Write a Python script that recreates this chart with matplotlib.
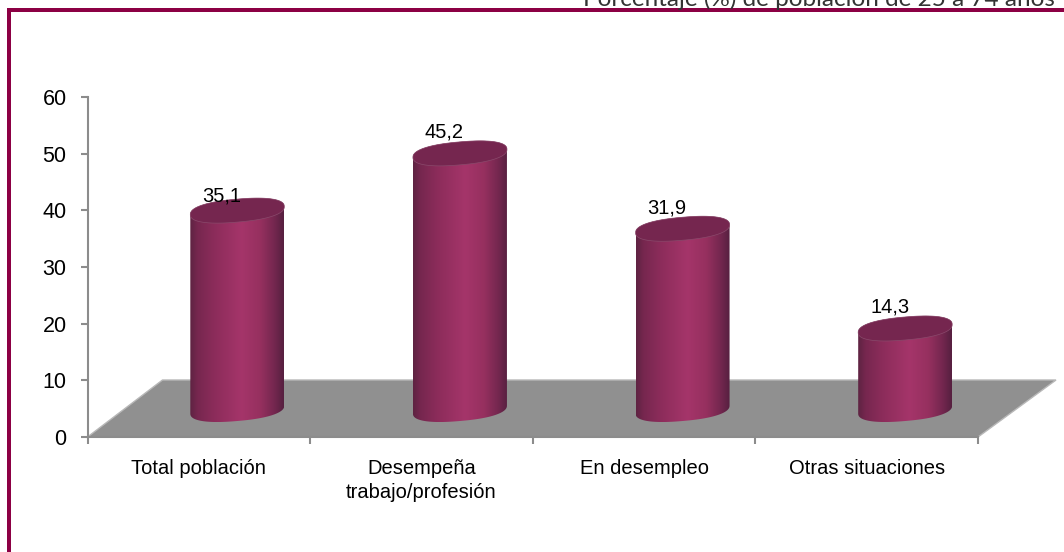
import numpy as np
import matplotlib
matplotlib.use("Agg")
import matplotlib.pyplot as plt
from matplotlib.colors import LinearSegmentedColormap
from matplotlib.patches import Polygon, Rectangle

categories = ["Total población", "Desempeña\ntrabajo/profesión", "En desempleo", "Otras situaciones"]
values = [35.1, 45.2, 31.9, 14.3]
value_labels = ["35,1", "45,2", "31,9", "14,3"]
y_ticks = [0, 10, 20, 30, 40, 50, 60]
header = "Porcentaje (%) de población de 25 a 74 años"

W, H = 1064, 552
fig = plt.figure(figsize=(W / 100, H / 100), dpi=100, facecolor="white")
L, R, T, B = 87.5, 978, 97, 437
ax = fig.add_axes([L / W, 1 - B / H, (R - L) / W, (B - T) / H])
ax.set_xlim(0, 4)
ax.set_ylim(0, 60)
ax.patch.set_visible(False)
for s in ("top", "right"):
    ax.spines[s].set_visible(False)
for s in ("left", "bottom"):
    ax.spines[s].set_color("#8c8c8c")
    ax.spines[s].set_linewidth(1.5)

font = "Liberation Sans"
ax.set_yticks(y_ticks)
ax.set_yticklabels([str(v) for v in y_ticks], fontsize=15.5, family=font, color="black")
ax.set_xticks(range(5))
ax.set_xticklabels([])
ax.tick_params(axis="y", length=5, width=1.5, color="#8c8c8c", pad=10)
ax.tick_params(axis="x", length=5, width=1.5, color="#8c8c8c")

px = (R - L) / 4      # pixels per category
py = (B - T) / 60     # pixels per y unit
dx, dy = 75 / px, 57 / py   # floor depth in data units

ax.add_patch(Polygon([(0, 0), (dx, dy), (4 + 78 / px, dy), (4, 0)], closed=True,
                     facecolor="#909090", edgecolor="#b8b8b8", linewidth=1.0,
                     clip_on=False, zorder=1))

cmap = LinearSegmentedColormap.from_list("cyl", [
    (0.0, "#5e2342"), (0.08, "#76274f"), (0.25, "#8b2c5a"),
    (0.55, "#a5356a"), (0.75, "#96305f"), (0.9, "#74274f"), (1.0, "#562040")])
grad = np.linspace(0, 1, 256).reshape(1, -1)
t = np.linspace(0, 2 * np.pi, 181)
cw, ch, cs = 47 / px, 11.5 / py, 4.0 / py
POW = 0.85

def ellipse(cx, cy, tt):
    c = np.sign(np.cos(tt)) * np.abs(np.cos(tt)) ** POW
    s = np.sign(np.sin(tt)) * np.abs(np.sin(tt)) ** POW
    return cx + cw * c, cy + ch * s + cs * c

for i, v in enumerate(values):
    cx = i + 0.5 + dx / 2 + 1 / px
    cy0 = dy / 2 - 1 / py
    cy1 = cy0 + v
    tb = np.linspace(np.pi, 2 * np.pi, 90)
    xb, yb = ellipse(cx, cy0, tb)
    tt = np.linspace(0, np.pi, 90)
    xt, yt = ellipse(cx, cy1, tt)
    xs = np.r_[xb, xt]
    ys = np.r_[yb, yt]
    body = Polygon(np.c_[xs, ys], closed=True, facecolor="none", edgecolor="none",
                   transform=ax.transData)
    ax.add_patch(body)
    im = ax.imshow(grad, cmap=cmap, aspect="auto", zorder=3, interpolation="bilinear",
                   extent=[cx - cw, cx + cw, ys.min(), ys.max()], clip_on=True)
    im.set_clip_path(body)
    xe, ye = ellipse(cx, cy1, t)
    ax.add_patch(Polygon(np.c_[xe, ye], closed=True, facecolor="#75264f",
                         edgecolor="#8a4a6c", linewidth=0.5, zorder=4, clip_on=False))
    ax.text(i + 0.5 + 23 / px, cy1 + (15 if i == 0 else 21) / py, value_labels[i],
            ha="center", va="center", fontsize=14.5, family=font, color="black", zorder=6)
    ax.text(i + 0.5, -(22.5) / py, categories[i], ha="center", va="top", fontsize=14.5,
            family=font, color="black", linespacing=1.27)
ax.set_xlim(0, 4)
ax.set_ylim(0, 60)

maroon = "#8c0044"
fig.add_artist(Rectangle((7 / W, 0), 4 / W, 1 - 8 / H, transform=fig.transFigure,
                         facecolor=maroon, edgecolor="none"))
fig.add_artist(Rectangle((7 / W, 1 - 12 / H), 1 - 7 / W, 4 / H, transform=fig.transFigure,
                         facecolor=maroon, edgecolor="none"))
fig.text(1055 / W, 1 - 5.5 / H, header, ha="right", va="baseline", fontsize=17.5,
         family="Lato", color="#333333")
fig.savefig("out.png", dpi=100)
